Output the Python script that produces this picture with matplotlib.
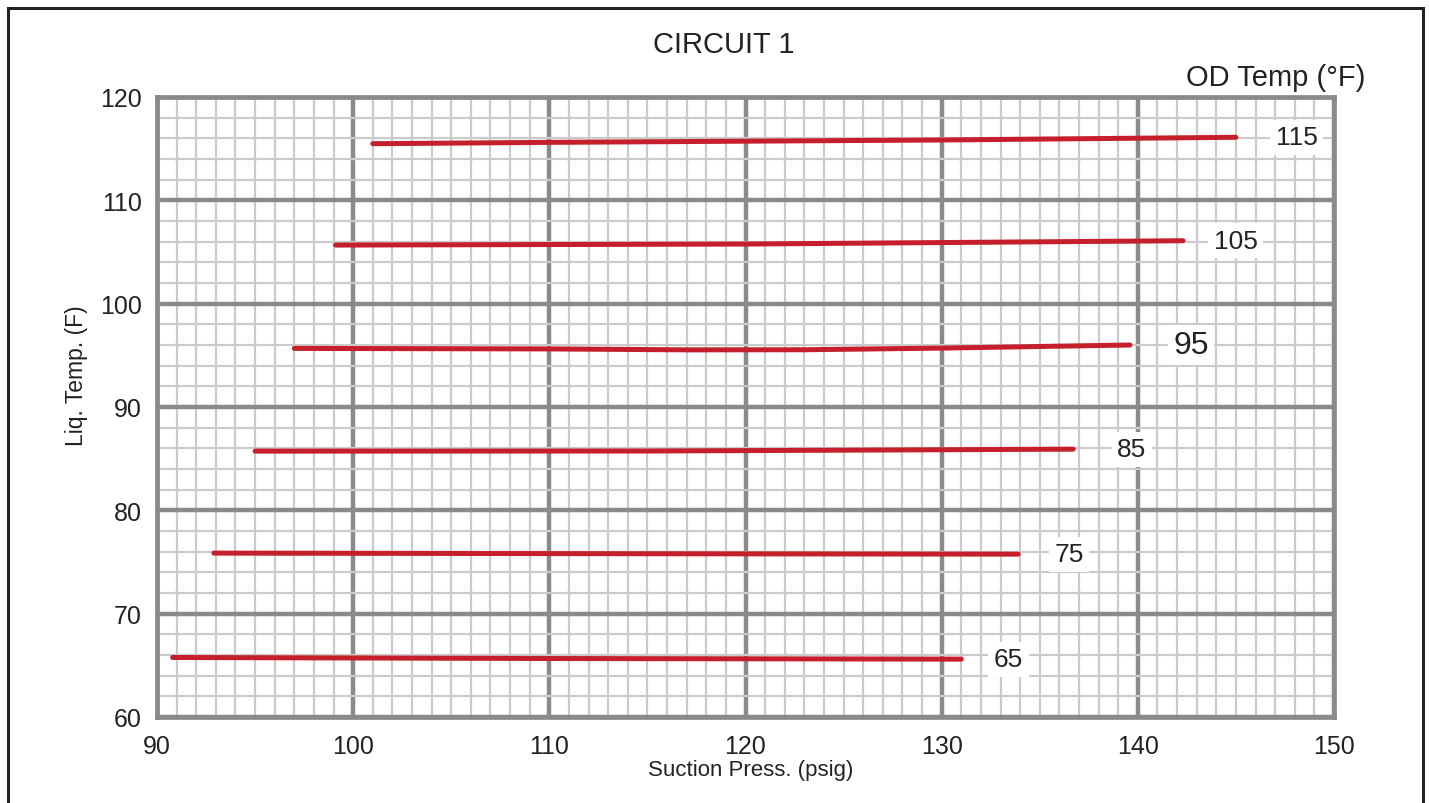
import numpy as np
import matplotlib.pyplot as plt
from matplotlib.lines import Line2D

# OD temp curves: suction press (psig) vs liquid temp (F)
od_temps = [115, 105, 95, 85, 75, 65]
press_115 = [101.0, 110, 130, 145.0]
liq_115 = [115.48, 115.61, 115.84, 116.10]
press_105 = [99.1, 120, 142.3]
liq_105 = [105.67, 105.77, 106.09]
press_95 = [97.0, 110, 117, 123, 130, 139.6]
liq_95 = [95.67, 95.62, 95.53, 95.54, 95.70, 96.0]
press_85 = [95.0, 115, 136.7]
liq_85 = [85.73, 85.74, 85.92]
press_75 = [92.9, 115, 133.9]
liq_75 = [75.86, 75.80, 75.76]
press_65 = [90.8, 110, 131.0]
liq_65 = [65.76, 65.66, 65.60]

curves = [(press_115, liq_115), (press_105, liq_105), (press_95, liq_95),
          (press_85, liq_85), (press_75, liq_75), (press_65, liq_65)]

# gap between the end of each curve and its label (psig)
label_gap = [3.1, 2.7, 3.1, 3.0, 2.6, 2.4]

plt.rcParams['font.family'] = ['Liberation Sans', 'DejaVu Sans']

fig = plt.figure(figsize=(14.29, 8.04), dpi=100)
ax = fig.add_axes([157/1429, 1 - 718/804, (1334-157)/1429, (718-98)/804])

major = '#8a8a8a'
minor = '#cbcbcb'
ax.set_xlim(90, 150)
ax.set_ylim(60, 120)
ax.set_xticks(np.arange(90, 151, 10))
ax.set_yticks(np.arange(60, 121, 10))
ax.set_xticks(np.arange(90, 151, 1), minor=True)
ax.set_yticks(np.arange(60, 121, 2), minor=True)
ax.grid(which='minor', color=minor, lw=1.6, zorder=0)
ax.grid(which='major', color=major, lw=3.2, zorder=1)
ax.set_axisbelow(True)
ax.tick_params(which='both', length=0)
ax.tick_params(axis='x', pad=12, labelsize=18, colors='#222222')
ax.tick_params(axis='y', pad=11, labelsize=18, colors='#222222')
for s in ax.spines.values():
    s.set_color(major)
    s.set_linewidth(3.4)

for t, (px, py), dx in zip(od_temps, curves, label_gap):
    ax.plot(px, py, color='#c41f2b', lw=3.6, solid_capstyle='round', zorder=3)
    fs = 23 if t == 95 else 19
    ax.text(px[-1] + dx, py[-1], str(t), fontsize=fs, color='#222222',
            ha='center', va='center', zorder=4,
            bbox=dict(facecolor='white', edgecolor='none', pad=4))

fig.text(724/1429, 1 - 45/804, 'CIRCUIT 1', fontsize=21,
         ha='center', va='center', color='#222222')
fig.text(1365/1429, 1 - 78/804, 'OD Temp (°F)', fontsize=21,
         ha='right', va='center', color='#222222')
fig.text(751/1429, 1 - 771/804, 'Suction Press. (psig)', fontsize=16,
         ha='center', va='center', color='#222222')
fig.text(77/1429, 1 - 376/804, 'Liq. Temp. (F)', fontsize=16.5,
         rotation=90, ha='center', va='center', color='#222222')

# frame around the figure
for xs, ys in [([8/1429, 8/1429], [0, 1 - 9/804]),
               ([8/1429, 1423/1429], [1 - 9/804, 1 - 9/804]),
               ([1423/1429, 1423/1429], [0, 1 - 9/804])]:
    fig.add_artist(Line2D(xs, ys, transform=fig.transFigure, color='#222222', lw=2.2))

fig.savefig('out.png', dpi=100)
